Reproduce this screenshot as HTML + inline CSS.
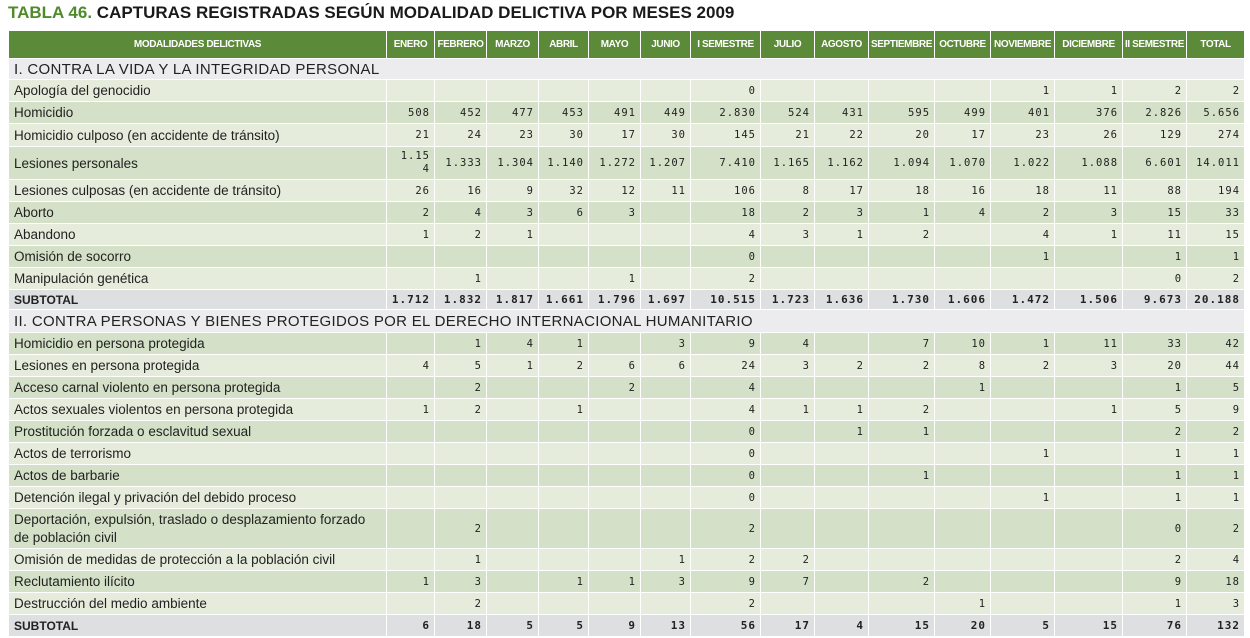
<!DOCTYPE html>
<html><head><meta charset="utf-8"><style>
body{margin:0;width:1250px;height:638px;background:#fff;position:relative;overflow:hidden;font-family:"Liberation Sans",sans-serif;}
#title{position:absolute;left:8px;top:3px;font-size:17px;font-weight:bold;color:#1a1a1a;white-space:nowrap;}
#title span{color:#4f8a2b}
table{position:absolute;left:8px;top:30px;border-collapse:collapse;table-layout:fixed;}
td,th{border:1px solid #fff;padding:0 5px;overflow:hidden;white-space:nowrap;}
th{background:#5b8a38;color:#fff;font-size:10px;font-weight:bold;height:27px;text-align:center;letter-spacing:-0.4px;padding:0 2px;}
td{font-size:13.5px;color:#222;}
td.n{text-align:right;font-family:"DejaVu Sans Mono","Liberation Mono",monospace;font-size:10.5px;letter-spacing:1px;padding:0 4px;}
tr.a td{background:#e5ecdc}
tr.b td{background:#d4e0c7}
tr.sec td{background:#ececee;font-size:15px;letter-spacing:0.3px;}
tr.sub td{background:#dedfe0;font-weight:bold;font-size:12px;}
tr.sub td.n{font-weight:bold;font-size:11px;}
</style></head><body>
<div id="title"><span>TABLA 46.</span> CAPTURAS REGISTRADAS SEGÚN MODALIDAD DELICTIVA POR MESES 2009</div>
<table id="t">
<colgroup><col style="width:378px"><col style="width:48px"><col style="width:52px"><col style="width:52px"><col style="width:50px"><col style="width:52px"><col style="width:50px"><col style="width:70px"><col style="width:54px"><col style="width:54px"><col style="width:66px"><col style="width:56px"><col style="width:64px"><col style="width:68px"><col style="width:64px"><col style="width:58px"></colgroup>
<tbody id="tb"></tbody></table>
<script>
const headers=["MODALIDADES DELICTIVAS","ENERO","FEBRERO","MARZO","ABRIL","MAYO","JUNIO","I SEMESTRE","JULIO","AGOSTO","SEPTIEMBRE","OCTUBRE","NOVIEMBRE","DICIEMBRE","II SEMESTRE","TOTAL"];
const rows=[
["sec","I. CONTRA LA VIDA Y LA INTEGRIDAD PERSONAL",[],21],
["a","Apología del genocidio",["","","","","","","0","","","","","1","1","2","2"],22],
["b","Homicidio",["508","452","477","453","491","449","2.830","524","431","595","499","401","376","2.826","5.656"],22],
["a","Homicidio culposo (en accidente de tránsito)",["21","24","23","30","17","30","145","21","22","20","17","23","26","129","274"],23],
["b","Lesiones personales",["1.15<br>4","1.333","1.304","1.140","1.272","1.207","7.410","1.165","1.162","1.094","1.070","1.022","1.088","6.601","14.011"],33],
["a","Lesiones culposas (en accidente de tránsito)",["26","16","9","32","12","11","106","8","17","18","16","18","11","88","194"],22],
["b","Aborto",["2","4","3","6","3","","18","2","3","1","4","2","3","15","33"],22],
["a","Abandono",["1","2","1","","","","4","3","1","2","","4","1","11","15"],22],
["b","Omisión de socorro",["","","","","","","0","","","","","1","","1","1"],22],
["a","Manipulación genética",["","1","","","1","","2","","","","","","","0","2"],22],
["sub","SUBTOTAL",["1.712","1.832","1.817","1.661","1.796","1.697","10.515","1.723","1.636","1.730","1.606","1.472","1.506","9.673","20.188"],20],
["sec","II. CONTRA PERSONAS Y BIENES PROTEGIDOS POR EL DERECHO INTERNACIONAL HUMANITARIO",[],23],
["b","Homicidio en persona protegida",["","1","4","1","","3","9","4","","7","10","1","11","33","42"],22],
["a","Lesiones en persona protegida",["4","5","1","2","6","6","24","3","2","2","8","2","3","20","44"],22],
["b","Acceso carnal violento en persona protegida",["","2","","","2","","4","","","","1","","","1","5"],22],
["a","Actos sexuales violentos en persona protegida",["1","2","","1","","","4","1","1","2","","","1","5","9"],22],
["b","Prostitución forzada o esclavitud sexual",["","","","","","","0","","1","1","","","","2","2"],22],
["a","Actos de terrorismo",["","","","","","","0","","","","","1","","1","1"],22],
["b","Actos de barbarie",["","","","","","","0","","","1","","","","1","1"],22],
["a","Detención ilegal y privación del debido proceso",["","","","","","","0","","","","","1","","1","1"],22],
["b","Deportación, expulsión, traslado o desplazamiento forzado<br>de población civil",["","2","","","","","2","","","","","","","0","2"],40],
["a","Omisión de medidas de protección  a la población civil",["","1","","","","1","2","2","","","","","","2","4"],22],
["b","Reclutamiento ilícito",["1","3","","1","1","3","9","7","","2","","","","9","18"],22],
["a","Destrucción del medio ambiente",["","2","","","","","2","","","","1","","","1","3"],22],
["sub","SUBTOTAL",["6","18","5","5","9","13","56","17","4","15","20","5","15","76","132"],22]
];
const tb=document.getElementById('tb');
const hr=document.createElement('tr');


headers.forEach(h=>{const th=document.createElement('th');th.textContent=h;


hr.appendChild(th);});
tb.appendChild(hr);
rows.forEach(r=>{const tr=document.createElement('tr');tr.className=r[0];tr.style.height=(r[3])+'px';


const td=document.createElement('td');td.innerHTML=r[1];
if(r[1].includes('<br>')){td.style.whiteSpace='normal';td.style.lineHeight='18px';}
if(r[0]==='sec')td.colSpan=16;


tr.appendChild(td);
if(r[0]!=='sec'){r[2].forEach(v=>{const c=document.createElement('td');c.className='n';c.innerHTML=v;
if(v.includes('<br>'))c.style.lineHeight='13px';


tr.appendChild(c);});}
tb.appendChild(tr);});
</script>
</body></html>
